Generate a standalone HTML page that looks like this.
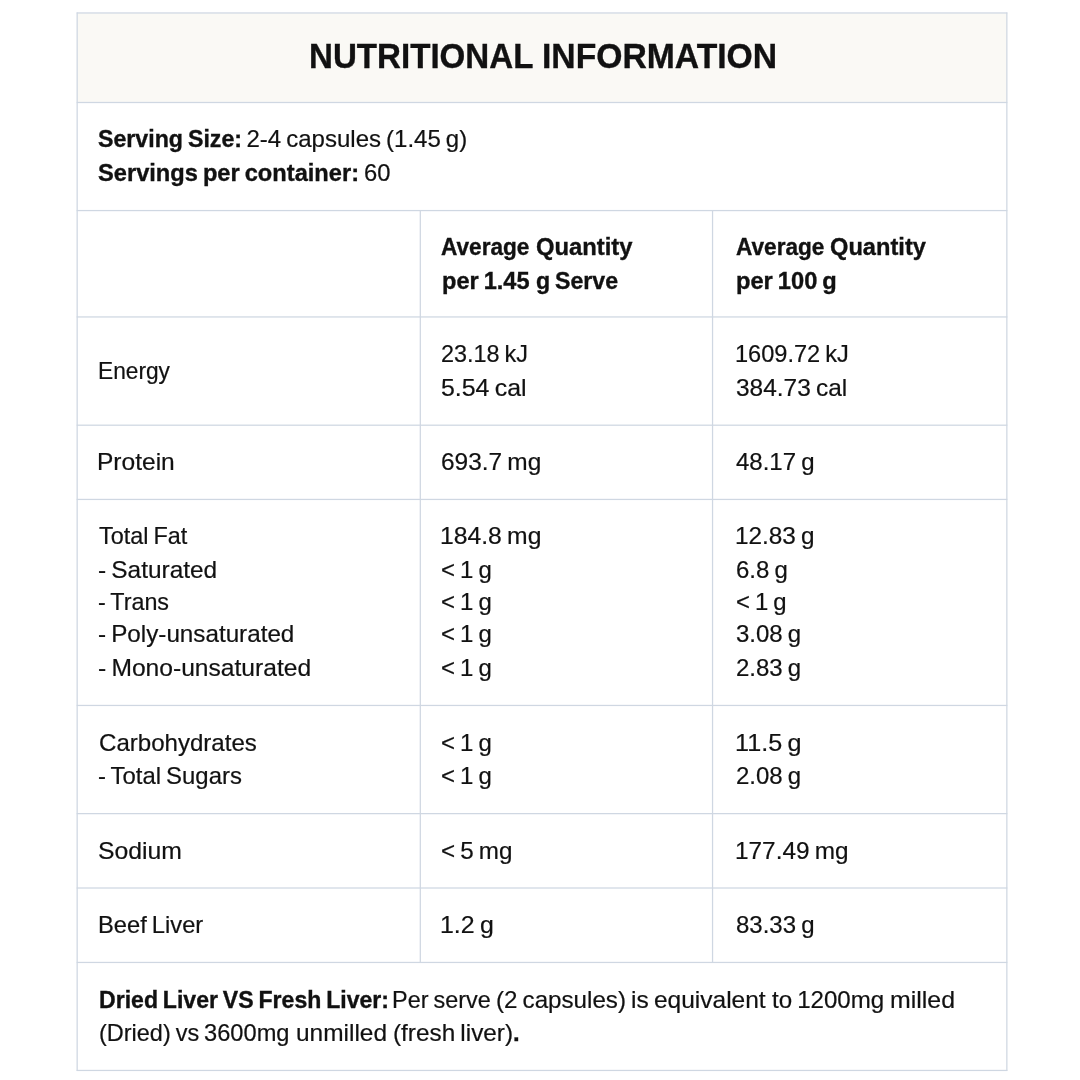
<!DOCTYPE html>
<html lang="en"><head><meta charset="utf-8"><title>Nutritional Information</title>
<style>
html,body{margin:0;padding:0;background:#fff}
body{width:1080px;height:1080px;position:relative;overflow:hidden;font-family:"Liberation Sans",Arial,sans-serif;color:#111}
svg.grid{position:absolute;left:0;top:0;width:1080px;height:1080px;display:block}
main,section,.c,h1,p{margin:0;padding:0;font-size:0;line-height:0}
.t{position:absolute;margin:0;white-space:pre;word-spacing:-1.6px;filter:blur(.4px);-webkit-text-stroke:.2px #111;line-height:40px;height:40px;font-size:24px;font-weight:400;transform-origin:0 50%;display:block}
b.t{font-weight:700;-webkit-text-stroke:.35px #111}
h1 .t{font-size:35px;font-weight:700;-webkit-text-stroke:.35px #111;line-height:50px;height:50px}
</style></head><body>
<svg class="grid" viewBox="0 0 1080 1080" aria-hidden="true">
<rect x="77.15" y="12.96" width="929.70" height="89.54" fill="#faf9f5"/>
<g fill="#cfd7e2">
<rect x="76.65" y="12.34" width="930.70" height="1.25"/>
<rect x="76.65" y="101.88" width="930.70" height="1.25"/>
<rect x="76.65" y="209.94" width="930.70" height="1.25"/>
<rect x="76.65" y="316.33" width="930.70" height="1.25"/>
<rect x="76.65" y="424.57" width="930.70" height="1.25"/>
<rect x="76.65" y="498.81" width="930.70" height="1.25"/>
<rect x="76.65" y="704.82" width="930.70" height="1.25"/>
<rect x="76.65" y="813.00" width="930.70" height="1.25"/>
<rect x="76.65" y="887.38" width="930.70" height="1.25"/>
<rect x="76.65" y="961.82" width="930.70" height="1.25"/>
<rect x="76.65" y="1069.82" width="930.70" height="1.25"/>
<rect x="76.53" y="12.46" width="1.25" height="1058.48"/>
<rect x="1006.23" y="12.46" width="1.25" height="1058.48"/>
<rect x="419.68" y="210.56" width="1.25" height="751.88"/>
<rect x="711.92" y="210.56" width="1.25" height="751.88"/>
</g></svg>
<main>
<section class="r">
<div class="c">
<h1><span class="t" style="left:309.11px;top:31px;transform:scaleX(0.9462)">NUTRITIONAL</span> <span class="t" style="left:541.58px;top:31px;transform:scaleX(0.9625)">INFORMATION</span></h1>
</div></section>
<section class="r">
<div class="c">
<p><b class="t" style="left:97.54px;top:119px;transform:scaleX(0.9658)">Serving Size:</b> <span class="t" style="left:246.50px;top:119px;transform:scaleX(1.0000)">2-4 capsules (1.45 g)</span></p>
<p><b class="t" style="left:97.52px;top:153px;transform:scaleX(0.9855)">Servings per container:</b> <span class="t" style="left:364.00px;top:153px;transform:scaleX(0.9926)">60</span></p>
</div></section>
<section class="r">
<div class="c">
<p><b class="t" style="left:441.03px;top:227px;transform:scaleX(0.9419)">Average</b> <b class="t" style="left:535.50px;top:227px;transform:scaleX(0.9918)">Quantity</b></p>
<p><b class="t" style="left:442.03px;top:261px;transform:scaleX(0.9817)">per 1.45</b> <b class="t" style="left:535.51px;top:261px;transform:scaleX(0.9644)">g Serve</b></p>
</div>
<div class="c">
<p><b class="t" style="left:736.02px;top:227px;transform:scaleX(0.9419)">Average</b> <b class="t" style="left:829.52px;top:227px;transform:scaleX(0.9854)">Quantity</b></p>
<p><b class="t" style="left:735.52px;top:261px;transform:scaleX(0.9860)">per 100 g</b></p>
</div></section>
<section class="r">
<div class="c">
<p><span class="t" style="left:97.62px;top:351px;transform:scaleX(0.9459)">Energy</span></p>
</div>
<div class="c">
<p><span class="t" style="left:441.03px;top:334px;transform:scaleX(0.9747)">23.18 kJ</span></p>
<p><span class="t" style="left:440.96px;top:368px;transform:scaleX(1.0375)">5.54 cal</span></p>
</div>
<div class="c">
<p><span class="t" style="left:735.04px;top:334px;transform:scaleX(0.9821)">1609.72 kJ</span></p>
<p><span class="t" style="left:735.98px;top:368px;transform:scaleX(1.0187)">384.73 cal</span></p>
</div></section>
<section class="r">
<div class="c">
<p><span class="t" style="left:97.44px;top:442px;transform:scaleX(1.0224)">Protein</span></p>
</div>
<div class="c">
<p><span class="t" style="left:440.98px;top:442px;transform:scaleX(1.0188)">693.7 mg</span></p>
</div>
<div class="c">
<p><span class="t" style="left:736.00px;top:442px;transform:scaleX(1.0000)">48.17 g</span></p>
</div></section>
<section class="r">
<div class="c">
<p><span class="t" style="left:99.00px;top:516px;transform:scaleX(0.9756)">Total Fat</span></p>
<p><span class="t" style="left:97.98px;top:550px;transform:scaleX(1.0174)">- Saturated</span></p>
<p><span class="t" style="left:98.03px;top:582px;transform:scaleX(0.9718)">- Trans</span></p>
<p><span class="t" style="left:97.99px;top:614px;transform:scaleX(1.0094)">- Poly-unsaturated</span></p>
<p><span class="t" style="left:97.97px;top:648px;transform:scaleX(1.0254)">- Mono-unsaturated</span></p>
</div>
<div class="c">
<p><span class="t" style="left:439.94px;top:516px;transform:scaleX(1.0295)">184.8 mg</span></p>
<p><span class="t" style="left:441.00px;top:550px;transform:scaleX(1.0000)">&lt; 1 g</span></p>
<p><span class="t" style="left:441.00px;top:582px;transform:scaleX(1.0000)">&lt; 1 g</span></p>
<p><span class="t" style="left:441.00px;top:614px;transform:scaleX(1.0000)">&lt; 1 g</span></p>
<p><span class="t" style="left:441.00px;top:648px;transform:scaleX(1.0000)">&lt; 1 g</span></p>
</div>
<div class="c">
<p><span class="t" style="left:734.97px;top:516px;transform:scaleX(1.0133)">12.83 g</span></p>
<p><span class="t" style="left:736.00px;top:550px;transform:scaleX(1.0000)">6.8 g</span></p>
<p><span class="t" style="left:736.00px;top:582px;transform:scaleX(0.9960)">&lt; 1 g</span></p>
<p><span class="t" style="left:736.00px;top:614px;transform:scaleX(1.0000)">3.08 g</span></p>
<p><span class="t" style="left:736.00px;top:648px;transform:scaleX(1.0000)">2.83 g</span></p>
</div></section>
<section class="r">
<div class="c">
<p><span class="t" style="left:98.50px;top:723px;transform:scaleX(1.0026)">Carbohydrates</span></p>
<p><span class="t" style="left:98.00px;top:756px;transform:scaleX(0.9958)">- Total Sugars</span></p>
</div>
<div class="c">
<p><span class="t" style="left:441.00px;top:723px;transform:scaleX(1.0000)">&lt; 1 g</span></p>
<p><span class="t" style="left:441.00px;top:756px;transform:scaleX(1.0000)">&lt; 1 g</span></p>
</div>
<div class="c">
<p><span class="t" style="left:734.90px;top:723px;transform:scaleX(1.0500)">11.5 g</span></p>
<p><span class="t" style="left:736.00px;top:756px;transform:scaleX(1.0000)">2.08 g</span></p>
</div></section>
<section class="r">
<div class="c">
<p><span class="t" style="left:97.92px;top:831px;transform:scaleX(1.0311)">Sodium</span></p>
</div>
<div class="c">
<p><span class="t" style="left:440.99px;top:831px;transform:scaleX(1.0090)">&lt; 5 mg</span></p>
</div>
<div class="c">
<p><span class="t" style="left:734.97px;top:831px;transform:scaleX(1.0148)">177.49 mg</span></p>
</div></section>
<section class="r">
<div class="c">
<p><span class="t" style="left:97.51px;top:905px;transform:scaleX(0.9887)">Beef Liver</span></p>
</div>
<div class="c">
<p><span class="t" style="left:439.92px;top:905px;transform:scaleX(1.0377)">1.2 g</span></p>
</div>
<div class="c">
<p><span class="t" style="left:736.00px;top:905px;transform:scaleX(1.0000)">83.33 g</span></p>
</div></section>
<section class="r">
<div class="c">
<p><b class="t" style="left:99.04px;top:980px;transform:scaleX(0.9612)">Dried Liver VS Fresh Liver:</b> <span class="t" style="left:392.49px;top:980px;transform:scaleX(0.9767)">Per serve</span> <span class="t" style="left:495.98px;top:980px;transform:scaleX(1.0064)">(2 capsules)</span> <span class="t" style="left:630.95px;top:980px;transform:scaleX(1.0216)">is equivalent</span> <span class="t" style="left:771.99px;top:980px;transform:scaleX(1.0037)">to 1200mg</span> <span class="t" style="left:890.33px;top:980px;transform:scaleX(1.0371)">milled</span></p>
<p><span class="t" style="left:99.02px;top:1013px;transform:scaleX(0.9781)">(Dried) vs</span> <span class="t" style="left:204.02px;top:1013px;transform:scaleX(0.9858)">3600mg</span> <span class="t" style="left:295.95px;top:1013px;transform:scaleX(1.0188)">unmilled</span> <span class="t" style="left:392.96px;top:1013px;transform:scaleX(1.0140)">(fresh liver)</span><b class="t" style="left:513.00px;top:1013px;transform:scaleX(1.0000)">.</b></p>
</div></section>
</main>
</body></html>
